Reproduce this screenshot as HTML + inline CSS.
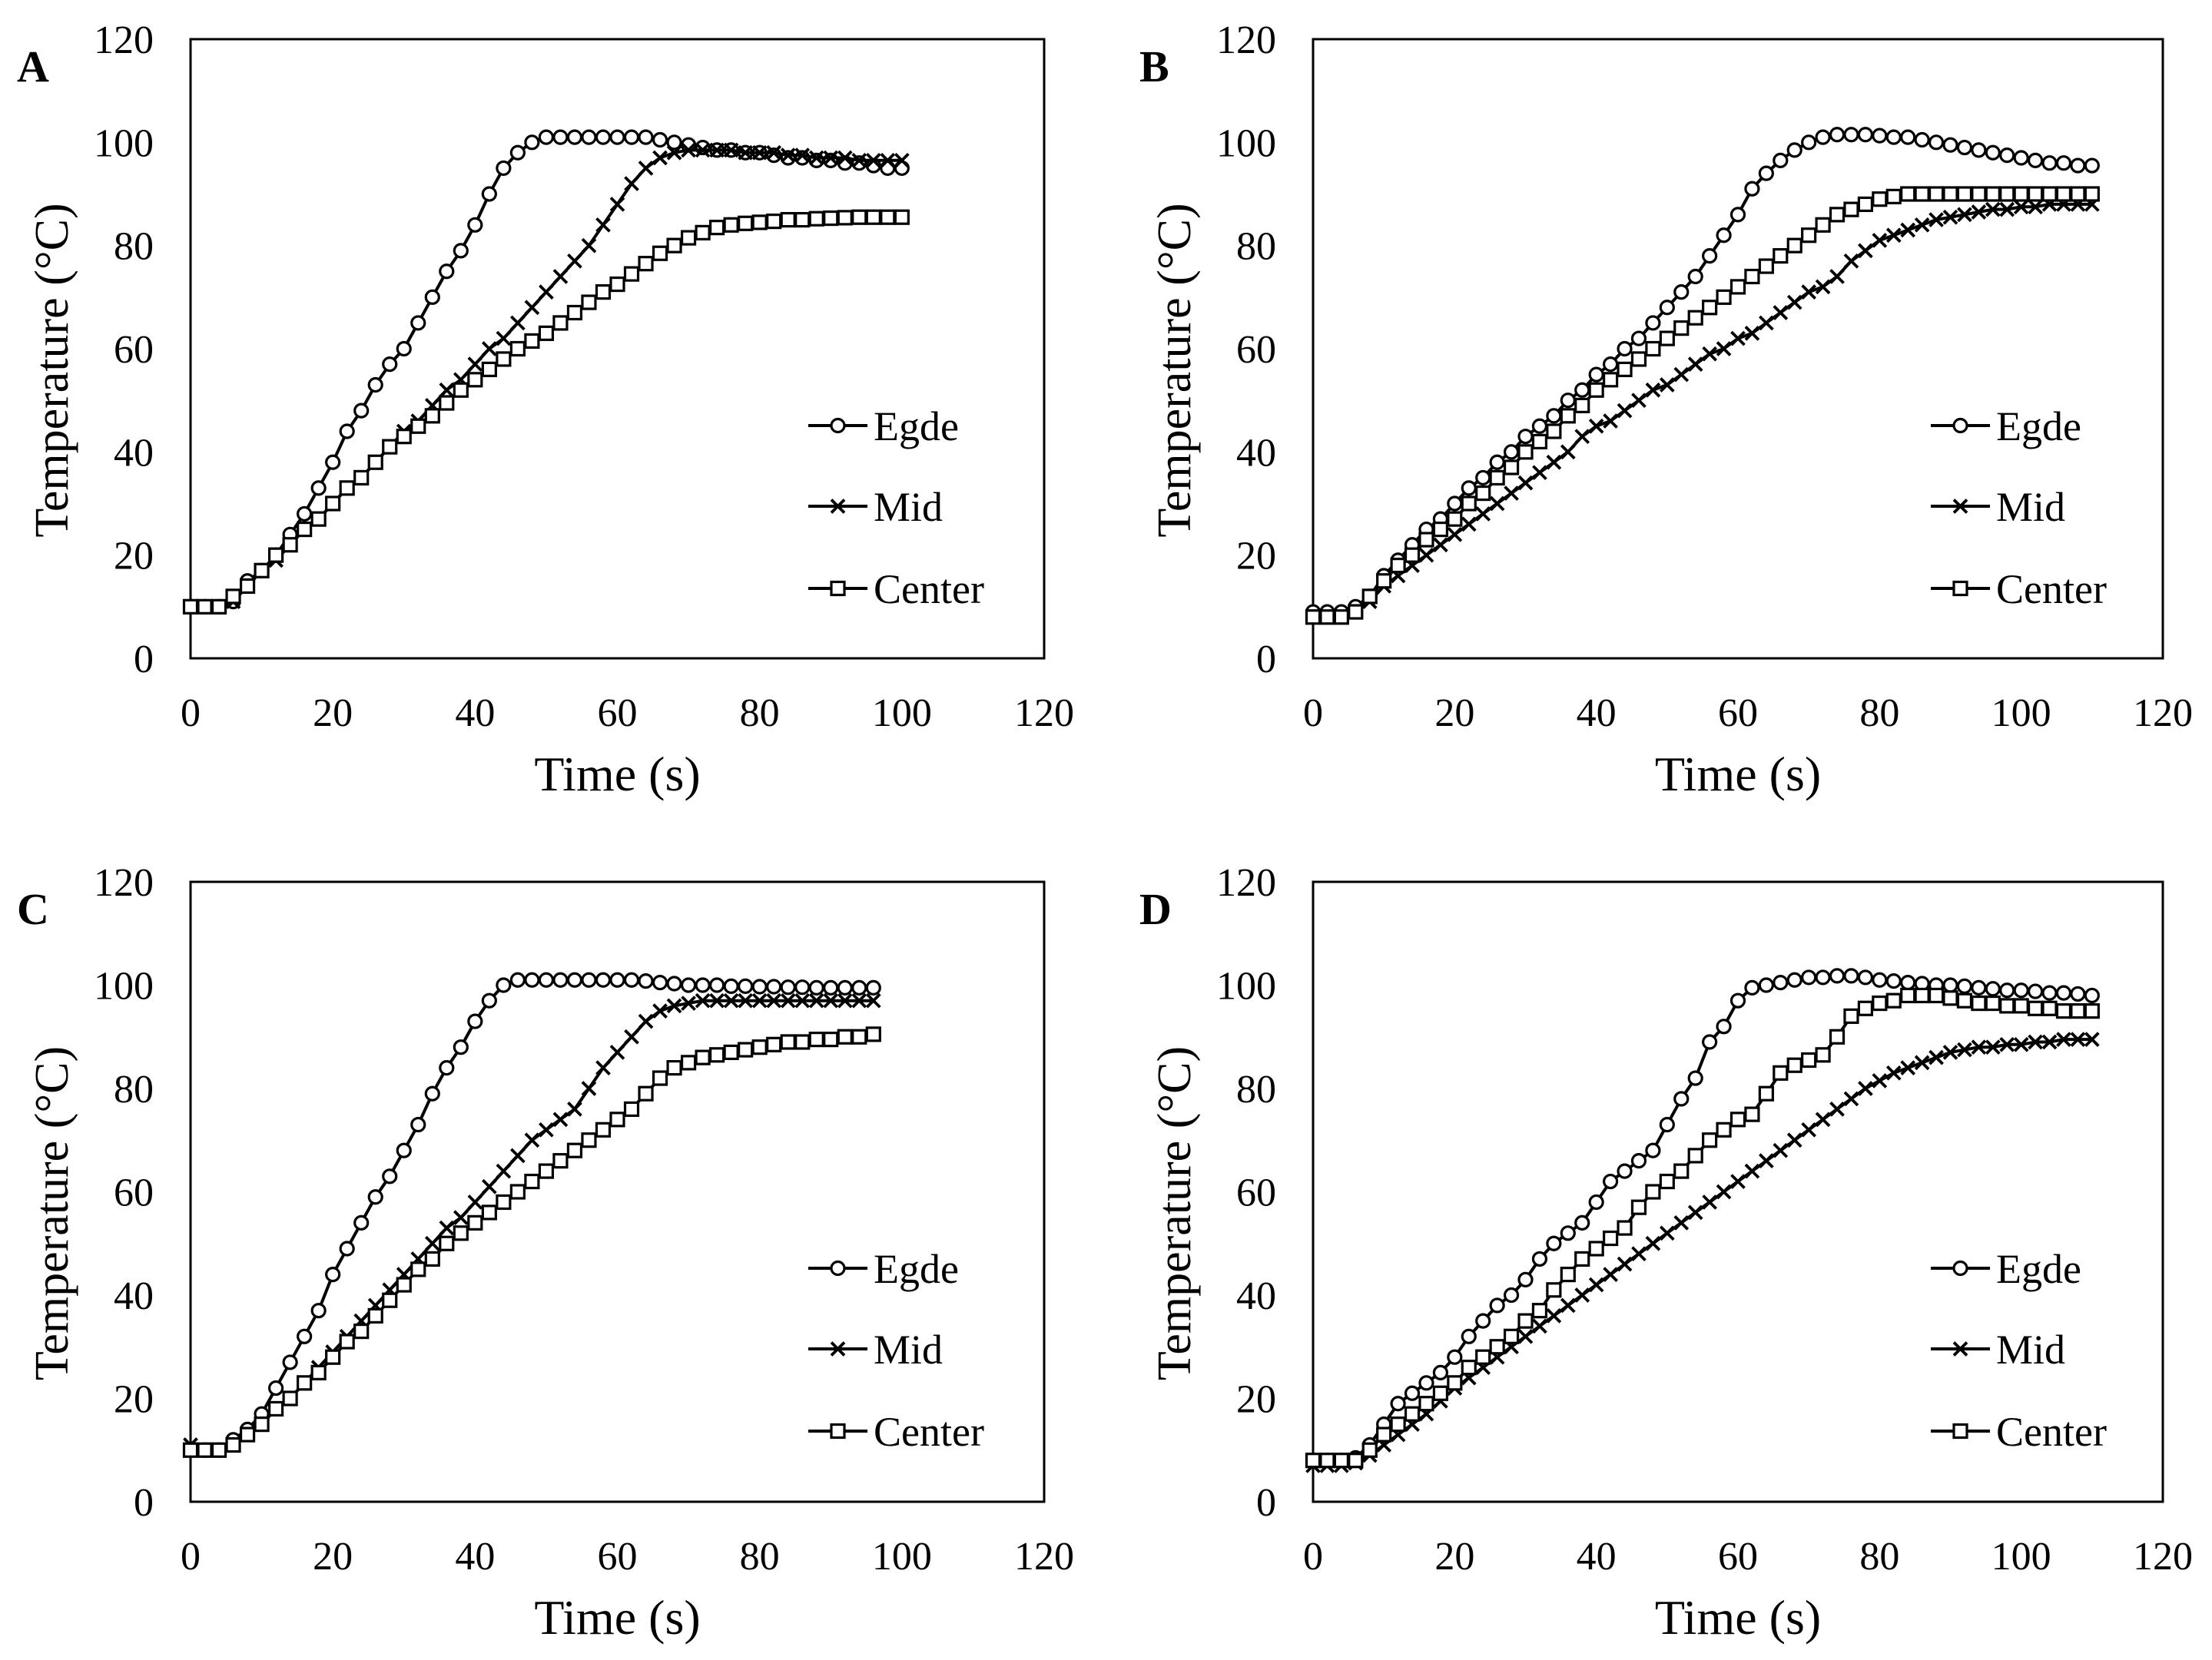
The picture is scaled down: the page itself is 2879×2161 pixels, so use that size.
<!DOCTYPE html>
<html><head><meta charset="utf-8"><style>
html,body{margin:0;padding:0;background:#fff;}
svg{display:block;font-family:"Liberation Serif",serif;}
</style></head><body>
<svg id="fig" width="2879" height="2161" viewBox="0 0 2879 2161"></svg>
<script>
const timesA = [0,2,4,6,8,10,12,14,16,18,20,22,24,26,28,30,32,34,36,38,40,42,44,46,48,50,52,54,56,58,60,62,64,66,68,70,72,74,76,78,80,82,84,86,88,90,92,94,96,98,100];
const edgeA = [10,10,10,11,15,17,20,24,28,33,38,44,48,53,57,60,65,70,75,79,84,90,95,98,100,101,101,101,101,101,101,101,101,100.5,100,99.5,99,98.5,98.5,98,98,97.5,97,97,96.5,96.5,96,96,95.5,95,95];
const midA = [10,10,10,11,14,17,19,22,25,27,30,33,35,38,41,44,46,49,52,54,57,60,62,65,68,71,74,77,80,84,88,92,95,97,98,98.5,98.5,98.5,98.5,98,98,98,97.5,97.5,97,97,97,96.5,96.5,96.5,96.5];
const centerA = [10,10,10,12,14,17,20,22,25,27,30,33,35,38,41,43,45,47,49.5,52,54,56,58,60,61.5,63,65,67,69,71,72.5,74.5,76.5,78.5,80,81.5,82.5,83.5,84,84.3,84.5,84.7,85,85,85.2,85.3,85.4,85.5,85.5,85.5,85.5];

const timesB = [0,2,4,6,8,10,12,14,16,18,20,22,24,26,28,30,32,34,36,38,40,42,44,46,48,50,52,54,56,58,60,62,64,66,68,70,72,74,76,78,80,82,84,86,88,90,92,94,96,98,100,102,104,106,108,110];
const edgeB = [9,9,9,10,12,16,19,22,25,27,30,33,35,38,40,43,45,47,50,52,55,57,60,62,65,68,71,74,78,82,86,91,94,96.5,98.5,100,101,101.5,101.5,101.5,101.3,101,101,100.5,100,99.5,99,98.5,98,97.5,97,96.5,96,96,95.5,95.5];
const midB = [8,8,8,9,11,14,16,18,20,22,24,26,28,30,32,34,36,38,40,43,45,46,48,50,52,53,55,57,59,60,62,63,65,67,69,71,72,74,77,79,81,82,83,84,85,85.5,86,86.5,87,87,87.5,87.5,88,88,88,88];
const centerB = [8,8,8,9,12,15,18,20,23,25,27,30,32,35,37,40,42,44,47,49,52,54,56,58,60,62,64,66,68,70,72,74,76,78,80,82,84,86,87,88,89,89.5,90,90,90,90,90,90,90,90,90,90,90,90,90,90];

const timesC = [0,2,4,6,8,10,12,14,16,18,20,22,24,26,28,30,32,34,36,38,40,42,44,46,48,50,52,54,56,58,60,62,64,66,68,70,72,74,76,78,80,82,84,86,88,90,92,94,96];
const edgeC = [10,10,10,12,14,17,22,27,32,37,44,49,54,59,63,68,73,79,84,88,93,97,100,101,101,101,101,101,101,101,101,101,100.8,100.5,100.3,100,100,100,99.8,99.8,99.7,99.7,99.6,99.6,99.5,99.5,99.5,99.5,99.5];
const midC = [11,10,10,11,13,15,18,20,23,26,29,32,35,38,41,44,47,50,53,55,58,61,64,67,70,72,74,76,80,84,87,90,93,95,96,96.5,97,97,97,97,97,97,97,97,97,97,97,97,97];
const centerC = [10,10,10,11,13,15,18,20,23,25,28,31,33,36,39,42,45,47,50,52,54,56,58,60,62,64,66,68,70,72,74,76,79,82,84,85,86,86.5,87,87.5,88,88.5,89,89,89.5,89.5,90,90,90.5];

const timesD = [0,2,4,6,8,10,12,14,16,18,20,22,24,26,28,30,32,34,36,38,40,42,44,46,48,50,52,54,56,58,60,62,64,66,68,70,72,74,76,78,80,82,84,86,88,90,92,94,96,98,100,102,104,106,108,110];
const edgeD = [8,8,8,8.5,11,15,19,21,23,25,28,32,35,38,40,43,47,50,52,54,58,62,64,66,68,73,78,82,89,92,97,99.5,100,100.5,101,101.5,101.5,101.8,101.8,101.5,101,100.8,100.5,100.3,100,100,99.8,99.5,99.3,99,99,98.8,98.5,98.5,98.3,98];
const midD = [7,7,7,7.5,9,11,13,15,17,19.5,22,24,26,28,30,32,34,36,38,40,42,44,46,48,50,52,54,56,58,60,62,64,66,68,70,72,74,76,78,80,81.5,83,84,85,86,87,87.5,88,88,88.5,88.5,89,89,89.5,89.5,89.5];
const centerD = [8,8,8,8,10,13,15,17,19,21,23,26,28,30,32,35,37,41,44,47,49,51,53,57,60,62,64,67,70,72,74,75,79,83,84.5,85.5,86.5,90,94,95.5,96.5,97,98,98,98,97.5,97,96.5,96.5,96,96,95.5,95.5,95,95,95];

const xTicks = [0,20,40,60,80,100,120];
const yTicks = [0,20,40,60,80,100,120];
const seriesNames = ["Egde","Mid","Center"];

const NS = "http://www.w3.org/2000/svg";
const svg = document.getElementById("fig");
function mk(tag, attrs, parent){
  const e = document.createElementNS(NS, tag);
  for (const k in attrs) e.setAttribute(k, attrs[k]);
  (parent||svg).appendChild(e);
  return e;
}
function marker(kind, cx, cy, g){
  const r = 8.5;
  let e;
  if (kind === 0) {
    e = mk("circle", {cx:cx, cy:cy, r:r, fill:"#fff", stroke:"#000", "stroke-width":3.2}, g);
  } else if (kind === 1) {
    e = mk("path", {d:`M${cx-r},${cy-r}L${cx+r},${cy+r}M${cx-r},${cy+r}L${cx+r},${cy-r}`, stroke:"#000", "stroke-width":3.8, fill:"none"}, g);
  } else {
    e = mk("rect", {x:cx-r, y:cy-r, width:2*r, height:2*r, fill:"#fff", stroke:"#000", "stroke-width":3.2}, g);
  }
  
  
  return e;
}

const panels = [
  {id:"a", letter:"A", xl:248, xr:1359, yb:857, yt:51, times:timesA, series:[edgeA,midA,centerA]},
  {id:"b", letter:"B", xl:1709, xr:2815, yb:857, yt:51, times:timesB, series:[edgeB,midB,centerB]},
  {id:"c", letter:"C", xl:248, xr:1359, yb:1955, yt:1148, times:timesC, series:[edgeC,midC,centerC]},
  {id:"d", letter:"D", xl:1709, xr:2815, yb:1955, yt:1148, times:timesD, series:[edgeD,midD,centerD]}
];

panels.forEach(p => {
  const g = mk("g", {});
  
  
  const X = v => p.xl + (v/120)*(p.xr-p.xl);
  const Y = v => p.yb - (v/120)*(p.yb-p.yt);

  const frame = mk("rect", {x:p.xl, y:p.yt, width:p.xr-p.xl, height:p.yb-p.yt, fill:"none", stroke:"#000", "stroke-width":3}, g);
  
  

  const lt = mk("text", {x:p.xl-226, y:p.yt+55, "font-size":58, "font-weight":"bold"}, g);
  lt.textContent = p.letter;
  
  

  yTicks.forEach(t => {
    const e = mk("text", {x:p.xl-48, y:Y(t)+18, "font-size":52, "text-anchor":"end"}, g);
    e.textContent = t;
    
    
  });
  xTicks.forEach(t => {
    const e = mk("text", {x:X(t), y:p.yb+88, "font-size":52, "text-anchor":"middle"}, g);
    e.textContent = t;
    
    
  });
  const xt = mk("text", {x:(p.xl+p.xr)/2, y:p.yb+172, "font-size":64, "text-anchor":"middle"}, g);
  xt.textContent = "Time (s)";
  
  
  const ycx = p.xl-180, ycy = (p.yb+p.yt)/2 + 28;
  const yt = mk("text", {x:ycx, y:ycy, "font-size":62, "text-anchor":"middle", "dominant-baseline":"central", transform:`rotate(-90 ${ycx} ${ycy})`}, g);
  yt.textContent = "Temperature (°C)";
  
  

  p.series.forEach((vals, si) => {
    const sg = mk("g", {}, g);
    
    
    const d = vals.map((v,i) => (i?"L":"M") + X(p.times[i]).toFixed(1) + "," + Y(v).toFixed(1)).join("");
    const ln = mk("path", {d:d, fill:"none", stroke:"#000", "stroke-width":4}, sg);
    
    
    vals.forEach((v,i) => marker(si, X(p.times[i]), Y(v), sg));
  });

  const legY = [554, 659, 766].map(v => v + (p.yt - 51));
  const lx1 = p.xl + 804, lx2 = p.xl + 881;
  seriesNames.forEach((n, si) => {
    const lg = mk("g", {}, g);
    
    
    const l = mk("line", {x1:lx1, x2:lx2, y1:legY[si], y2:legY[si], stroke:"#000", "stroke-width":4}, lg);
    
    
    marker(si, (lx1+lx2)/2, legY[si], lg);
    const tx = mk("text", {x:lx2+8, y:legY[si]+19, "font-size":54}, lg);
    tx.textContent = n;
    
    
  });
});
</script>
</body></html>
